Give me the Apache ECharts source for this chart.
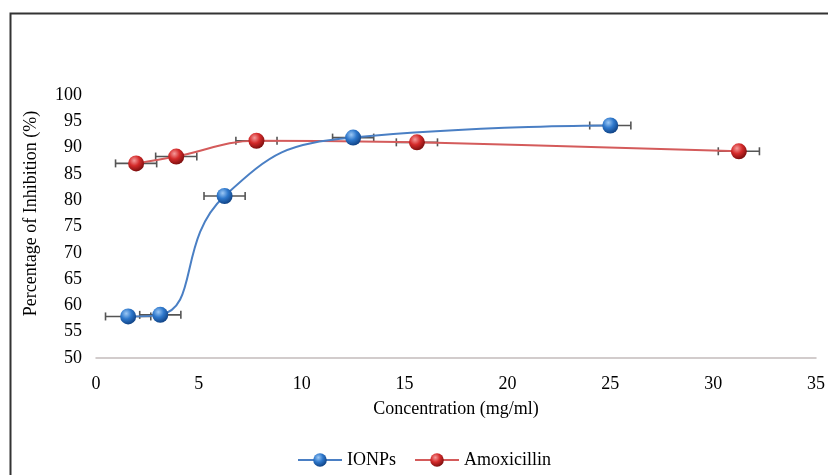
<!DOCTYPE html>
<html>
<head>
<meta charset="utf-8">
<script src="https://cdn.jsdelivr.net/npm/echarts@6/dist/echarts.min.js"></script>
<style>html,body{margin:0;padding:0;background:#fff;}#c{width:828px;height:475px;}</style>
</head>
<body>
<div id="c"></div>
<script>
const ionpsX = [1.5625, 3.125, 6.25, 12.5, 25];
const ionpsY = [57.9, 58.2, 80.8, 91.9, 94.2];
const ionpsErr = [1.1, 1.0, 1.0, 1.0, 1.0];
const amoxX = [1.95, 3.9, 7.8, 15.6, 31.25];
const amoxY = [87.0, 88.3, 91.3, 91.0, 89.3];
const amoxErr = [1.0, 1.0, 1.0, 1.0, 1.0];
const xTicks = [0, 5, 10, 15, 20, 25, 30, 35];
const yTicks = [50, 55, 60, 65, 70, 75, 80, 85, 90, 95, 100];

const font = "'Liberation Serif','Times New Roman',serif";
function sphere(light, mid, dark) {
  return new echarts.graphic.RadialGradient(0.38, 0.32, 0.75, [
    {offset: 0, color: light}, {offset: 0.45, color: mid}, {offset: 1, color: dark}
  ]);
}
const blueFill = sphere('#9cc8f5', '#2e78cc', '#0b3a7a');
const redFill = sphere('#f59a9a', '#d42a2a', '#6e0a0a');

function pts(xs, ys) { return xs.map((x, i) => [x, ys[i]]); }
function errData(xs, ys, es) { return xs.map((x, i) => [x - es[i], x + es[i], ys[i]]); }

function errRender(params, api) {
  const lo = api.coord([api.value(0), api.value(2)]);
  const hi = api.coord([api.value(1), api.value(2)]);
  const c = '#555';
  return {
    type: 'group',
    children: [
      {type: 'line', shape: {x1: lo[0], y1: lo[1], x2: hi[0], y2: hi[1]}, style: {stroke: c, lineWidth: 1.6}},
      {type: 'line', shape: {x1: lo[0], y1: lo[1] - 4, x2: lo[0], y2: lo[1] + 4}, style: {stroke: c, lineWidth: 1.6}},
      {type: 'line', shape: {x1: hi[0], y1: hi[1] - 4, x2: hi[0], y2: hi[1] + 4}, style: {stroke: c, lineWidth: 1.6}}
    ]
  };
}

const chart = echarts.init(document.getElementById('c'), null, {renderer: 'canvas'});
chart.setOption({
  animation: false,
  backgroundColor: '#fff',
  graphic: [{
    type: 'rect', left: 8, top: 11, shape: {width: 840, height: 480},
    style: {fill: 'none', stroke: '#333', lineWidth: 2}, z: 100
  }],
  grid: {left: 96, right: 6, top: 95, bottom: 117, containLabel: false},
  xAxis: {
    type: 'value', min: xTicks[0], max: xTicks[xTicks.length - 1], interval: 5,
    axisLine: {show: true, lineStyle: {color: '#c4bcbc', width: 1.5}},
    axisTick: {show: false},
    splitLine: {show: false},
    axisLabel: {color: '#000', fontFamily: font, fontSize: 18, margin: 17},
    name: 'Concentration (mg/ml)', nameLocation: 'middle', nameGap: 42,
    nameTextStyle: {color: '#000', fontFamily: font, fontSize: 18}
  },
  yAxis: {
    type: 'value', min: yTicks[0], max: yTicks[yTicks.length - 1], interval: 5,
    axisLine: {show: false}, axisTick: {show: false}, splitLine: {show: false},
    axisLabel: {color: '#000', fontFamily: font, fontSize: 18, margin: 14},
    name: 'Percentage of Inhibition (%)', nameLocation: 'middle', nameGap: 56,
    nameTextStyle: {color: '#000', fontFamily: font, fontSize: 18, padding: [0, 0, 0, 26]}
  },
  legend: {
    left: 292, top: 446, itemWidth: 44, itemHeight: 17, itemGap: 18,
    textStyle: {color: '#000', fontFamily: font, fontSize: 18},
    data: ['IONPs', 'Amoxicillin']
  },
  series: [
    {type: 'custom', name: 'IONPs err', renderItem: errRender, data: errData(ionpsX, ionpsY, ionpsErr), z: 3, silent: true},
    {type: 'custom', name: 'Amox err', renderItem: errRender, data: errData(amoxX, amoxY, amoxErr), z: 3, silent: true},
    {
      type: 'line', name: 'Amoxicillin', data: pts(amoxX, amoxY), smooth: 0.4,
      symbol: 'circle', symbolSize: 16,
      lineStyle: {color: '#d45b5b', width: 2},
      itemStyle: {color: redFill, borderWidth: 0}, z: 4
    },
    {
      type: 'line', name: 'IONPs', data: pts(ionpsX, ionpsY), smooth: 0.5,
      symbol: 'circle', symbolSize: 16,
      lineStyle: {color: '#4a7fc4', width: 2},
      itemStyle: {color: blueFill, borderWidth: 0}, z: 5
    }
  ]
});
</script>
</body>
</html>
